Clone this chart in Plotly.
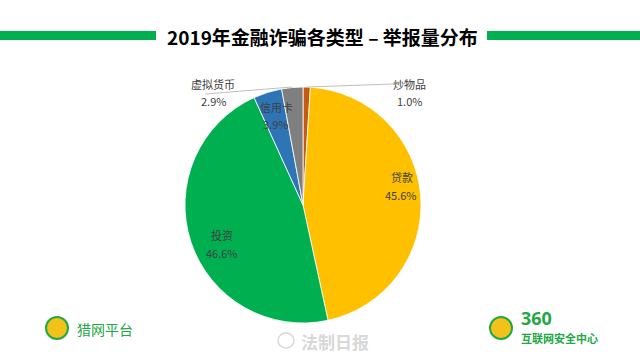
import plotly.graph_objects as go

categories = ["炒物品", "贷款", "投资", "信用卡", "虚拟货币"]
values = [1.0, 45.6, 46.6, 3.9, 2.9]
colors = ["#C55A11", "#FFC000", "#00B050", "#2E75B6", "#7F7F7F"]
title_text = "2019年金融诈骗各类型 – 举报量分布"

W, H = 640, 360
def px(x):
    return x / W
def py(y):
    return 1 - y / H

fig = go.Figure(go.Pie(
    labels=categories, values=values, sort=False, direction="clockwise",
    rotation=0, marker=dict(colors=colors, line=dict(color="white", width=0.8)),
    textinfo="none", hoverinfo="label+percent", showlegend=False,
    domain=dict(x=[px(185), px(421)], y=[py(323), py(87)]),
))

label_pos = {  # label centre (x, y) in pixels
    "炒物品": (409, 84, 409, 101),
    "贷款": (402, 177, 401, 195),
    "投资": (222, 235, 222, 253),
    "信用卡": (276, 107, 275, 124),
    "虚拟货币": (213, 84, 213, 101),
}

def txt(x, y, text, size, color, family="Noto Sans CJK SC", xanchor="center"):
    return dict(x=px(x), y=py(y), xref="paper", yref="paper", text=text, showarrow=False,
                xanchor=xanchor, yanchor="middle",
                font=dict(size=size, color=color, family=family))

ann = []
for c, v in zip(categories, values):
    x1, y1, x2, y2 = label_pos[c]
    ann.append(txt(x1, y1, c, 11, "#404040"))
    ann.append(txt(x2, y2, f"{v:.1f}%", 11, "#404040"))

ann.append(txt(322, 37, f"<b>{title_text}</b>", 19, "#000000"))
ann.append(txt(75, 329, "猎网平台", 14, "#22A845", xanchor="left"))
ann.append(txt(519, 318, "<b>360</b>", 18, "#22A845", family="Noto Sans", xanchor="left"))
ann.append(txt(519, 338, "<b>互联网安全中心</b>", 11, "#22A845", xanchor="left"))
ann.append(txt(299, 341, "<b>法制日报</b>", 17, "#D8D8D8", xanchor="left"))

shapes = [
    dict(type="rect", xref="paper", yref="paper", x0=0, x1=px(156), y0=py(40), y1=py(31),
         fillcolor="#00B050", line=dict(width=0)),
    dict(type="rect", xref="paper", yref="paper", x0=px(487), x1=1, y0=py(40), y1=py(31),
         fillcolor="#00B050", line=dict(width=0)),
    dict(type="line", xref="paper", yref="paper", x0=px(205), y0=py(94), x1=px(292), y1=py(87),
         line=dict(color="#BFBFBF", width=1)),
    dict(type="line", xref="paper", yref="paper", x0=px(307), y0=py(87), x1=px(393), y1=py(84),
         line=dict(color="#BFBFBF", width=1)),
    dict(type="circle", xref="paper", yref="paper", x0=px(46), x1=px(68), y0=py(339), y1=py(317),
         fillcolor="#F2C21B", line=dict(color="#22A845", width=2)),
    dict(type="circle", xref="paper", yref="paper", x0=px(490), x1=px(512), y0=py(339), y1=py(317),
         fillcolor="#F2C21B", line=dict(color="#22A845", width=2)),
    dict(type="circle", xref="paper", yref="paper", x0=px(278), x1=px(294), y0=py(348), y1=py(333),
         fillcolor="rgba(0,0,0,0)", line=dict(color="#D8D8D8", width=1.5)),
]

fig.update_layout(
    width=W, height=H, margin=dict(l=0, r=0, t=0, b=0),
    paper_bgcolor="white", plot_bgcolor="white",
    annotations=ann, shapes=shapes,
)
fig.write_html("out.html", config={"displayModeBar": False},
               post_script="document.body.style.margin='0';document.body.style.overflow='hidden';")
